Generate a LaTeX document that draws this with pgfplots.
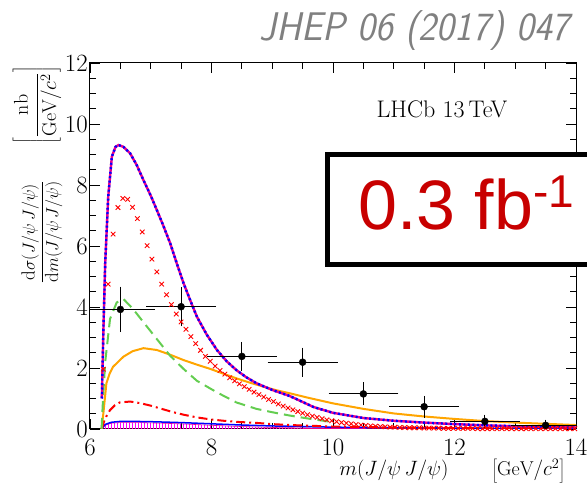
\documentclass[border=0pt]{standalone}
\usepackage{pgfplots}
\pgfplotsset{compat=1.18}
\usepackage{fontspec}
\usepackage{graphicx}
\usetikzlibrary{patterns}
\newfontfamily\arialfont{Liberation Sans}
\definecolor{lorange}{RGB}{255,165,0}
\definecolor{lgreen}{RGB}{100,205,80}
\definecolor{boxred}{RGB}{200,0,0}

\pgfplotstableread{
x y ex ey
6.5 3.92 0.5 0.60
7.5 4.01 0.5 0.50
8.5 2.38 0.5 0.33
9.5 2.19 0.5 0.33
10.5 1.15 0.5 0.23
11.5 0.73 0.5 0.21
12.5 0.25 0.5 0.07
13.5 0.12 0.5 0.04
}\lhcbdata

\begin{document}
\begin{tikzpicture}
\begin{axis}[
    scale only axis,
    width=486pt, height=366pt,
    xmin=6, xmax=14, ymin=0, ymax=12,
    xtick={6,8,10,12,14}, ytick={0,2,4,6,8,10,12},
    minor x tick num=3, minor y tick num=3,
    major tick length=10pt, minor tick length=6pt,
    tick align=inside,
    every tick/.style={black, line width=0.8pt},
    axis line style={line width=1pt},
    tick label style={font=\fontsize{23}{27}\selectfont},
    yticklabel style={inner xsep=2pt},
    xticklabel style={yshift=-7pt},
    clip=true,
]
\coordinate (SW) at (rel axis cs:0,0);

% hatched component
\addplot[draw=magenta, line width=0.6pt, pattern=vertical lines, pattern color=magenta] coordinates {
(6.19,0) (6.25,0.12) (6.35,0.19) (6.5,0.21) (6.8,0.21) (7.2,0.19) (7.6,0.16)
(8.0,0.12) (8.5,0.08) (9.0,0.05) (10.0,0.02) (11.0,0.01) (12.0,0.0)
} \closedcycle;

% blue small component
\addplot[blue, line width=1.5pt] coordinates {
(6.19,0) (6.25,0.15) (6.35,0.22) (6.5,0.25) (6.7,0.25) (7.0,0.24) (7.5,0.21)
(8.0,0.17) (8.5,0.13) (9.0,0.10) (10.0,0.06) (11.0,0.04) (12.0,0.03) (13.0,0.02) (14.0,0.01)
};

% red dash-dot
\addplot[red, line width=2pt, dash pattern=on 9pt off 4pt on 2pt off 4pt] coordinates {
(6.19,0) (6.25,0.35) (6.33,0.62) (6.41,0.78) (6.49,0.87) (6.66,0.90) (6.82,0.85)
(6.99,0.77) (7.18,0.66) (7.37,0.55) (7.56,0.46) (7.76,0.38) (8.0,0.31) (8.2,0.27)
(8.45,0.23) (8.74,0.20) (9.0,0.16) (9.29,0.13) (10.0,0.08) (11.0,0.05) (12.0,0.03)
(13.0,0.02) (14.0,0.01)
};

% orange
\addplot[lorange, line width=2pt] coordinates {
(6.19,0) (6.22,0.51) (6.27,1.5) (6.32,1.8) (6.38,2.04) (6.55,2.37) (6.70,2.55)
(6.88,2.65) (7.10,2.59) (7.30,2.45) (7.54,2.26) (7.76,2.11) (7.98,1.97) (8.2,1.81)
(8.41,1.66) (8.63,1.52) (8.85,1.39) (9.07,1.27) (9.29,1.17) (9.6,1.02) (10.0,0.84)
(10.5,0.66) (11.0,0.51) (11.5,0.41) (12.0,0.33) (12.5,0.26) (13.0,0.21) (13.5,0.17) (14.0,0.13)
};

% green dashed
\addplot[lgreen, line width=2pt, dash pattern=on 11pt off 6pt] coordinates {
(6.19,0) (6.22,1.2) (6.25,2.19) (6.33,3.61) (6.44,4.15) (6.55,4.26) (6.66,4.04)
(6.77,3.78) (6.88,3.50) (7.10,2.95) (7.32,2.40) (7.54,1.97) (7.76,1.58) (8.09,1.20)
(8.41,0.87) (8.74,0.66) (9.0,0.55) (9.29,0.44) (9.6,0.34) (9.95,0.24)
};

% red crosses
\addplot[red, only marks, mark=x, mark size=3.2pt, mark options={line width=0.9pt}] coordinates {
(6.22,1.96) (6.30,4.75) (6.38,6.39) (6.46,7.26) (6.54,7.56) (6.62,7.53) (6.70,7.27)
(6.78,6.90) (6.86,6.46) (6.94,6.01) (7.02,5.57) (7.10,5.15) (7.18,4.75) (7.26,4.40)
(7.34,4.08) (7.42,3.77) (7.50,3.51) (7.58,3.27) (7.66,3.03) (7.74,2.80) (7.82,2.58)
(7.90,2.38) (7.98,2.22) (8.06,2.06) (8.14,1.92) (8.22,1.80) (8.30,1.68) (8.38,1.58)
(8.46,1.48) (8.54,1.39) (8.62,1.30) (8.70,1.21) (8.78,1.13) (8.86,1.05) (8.94,0.97)
(9.02,0.90) (9.10,0.82) (9.18,0.75) (9.26,0.69) (9.34,0.63) (9.42,0.57) (9.50,0.52)
(9.58,0.47) (9.66,0.42) (9.74,0.38) (9.82,0.34) (9.90,0.30) (9.98,0.27) (10.06,0.24)
(10.14,0.21) (10.22,0.19) (10.30,0.17) (10.38,0.15) (10.46,0.13) (10.54,0.12) (10.62,0.10)
(10.70,0.09) (10.78,0.08) (10.86,0.07) (10.94,0.06) (11.02,0.06) (11.10,0.05) (11.18,0.05)
(11.26,0.04) (11.34,0.04) (11.42,0.04) (11.50,0.03) (11.58,0.03) (11.66,0.03) (11.74,0.03)
(11.82,0.02) (11.90,0.02) (11.98,0.02) (12.06,0.02) (12.14,0.02) (12.22,0.02) (12.30,0.02)
(12.38,0.01) (12.46,0.01) (12.54,0.01) (12.62,0.01) (12.70,0.01) (12.78,0.01) (12.86,0.01)
(12.94,0.01) (13.02,0.01) (13.10,0.01) (13.18,0.01) (13.26,0.01) (13.34,0.01) (13.42,0.01)
(13.50,0.01) (13.58,0.01) (13.66,0.01) (13.74,0.01) (13.82,0.01) (13.90,0.01) (13.98,0.01)
};

% total: magenta under blue dashes
\addplot[magenta, line width=2.4pt, forget plot] coordinates {
(6.195,1.0) (6.22,3.2) (6.25,5.43) (6.30,7.62) (6.36,8.93) (6.42,9.25) (6.47,9.31)
(6.55,9.25) (6.66,9.04) (6.77,8.65) (6.88,8.16) (7.00,7.65) (7.10,7.18) (7.20,6.70)
(7.32,6.09) (7.43,5.42) (7.54,4.78) (7.65,4.22) (7.76,3.68) (7.92,3.10) (8.09,2.59)
(8.25,2.22) (8.41,1.93) (8.57,1.70) (8.74,1.50) (9.00,1.28) (9.29,1.08) (9.68,0.72)
(10.0,0.53) (10.5,0.36) (11.0,0.27) (11.5,0.21) (12.0,0.16) (12.5,0.12) (13.0,0.09)
(13.5,0.07) (14.0,0.05)
};
\addplot[blue, line width=2.4pt, dash pattern=on 2pt off 2.5pt] coordinates {
(6.195,1.0) (6.22,3.2) (6.25,5.43) (6.30,7.62) (6.36,8.93) (6.42,9.25) (6.47,9.31)
(6.55,9.25) (6.66,9.04) (6.77,8.65) (6.88,8.16) (7.00,7.65) (7.10,7.18) (7.20,6.70)
(7.32,6.09) (7.43,5.42) (7.54,4.78) (7.65,4.22) (7.76,3.68) (7.92,3.10) (8.09,2.59)
(8.25,2.22) (8.41,1.93) (8.57,1.70) (8.74,1.50) (9.00,1.28) (9.29,1.08) (9.68,0.72)
(10.0,0.53) (10.5,0.36) (11.0,0.27) (11.5,0.21) (12.0,0.16) (12.5,0.12) (13.0,0.09)
(13.5,0.07) (14.0,0.05)
};

% data
\addplot[black, only marks, mark=*, mark size=3.5pt,
  error bars/.cd, x dir=both, x explicit, y dir=both, y explicit,
  error bar style={line width=1pt, black},
  error mark options={black, mark size=4.5pt, line width=1pt}]
  table[x=x, y=y, x error=ex, y error=ey] {\lhcbdata};
\end{axis}

\pgfresetboundingbox
\path[use as bounding box] ([shift={(-90pt,-55pt)}]SW) rectangle ([shift={(497pt,429pt)}]SW);

% labels
\node[rotate=90, font=\fontsize{19}{23}\selectfont] at ([shift={(-48pt,197pt)}]SW)
  {$\displaystyle\frac{\mathrm{d}\sigma(J/\psi\,J/\psi)}{\mathrm{d}m(J/\psi\,J/\psi)}$};
\node[rotate=90, font=\fontsize{20}{24}\selectfont] at ([shift={(-53pt,324pt)}]SW)
  {$\displaystyle\left[\frac{\mathrm{nb}}{\mathrm{GeV}/c^2}\right]$};
\node[anchor=base east, inner sep=0pt, font=\fontsize{20}{24}\selectfont] at ([shift={(475pt,-47pt)}]SW)
  {$m(J/\psi\,J/\psi)\qquad\left[\mathrm{GeV}/c^2\right]$};
\node[anchor=base, inner sep=0pt, font=\fontsize{24}{28}\selectfont] at ([shift={(352pt,311pt)}]SW)
  {LHCb 13\,TeV};

% title
\node[anchor=base east, inner sep=0pt, text=gray] at ([shift={(480pt,388pt)}]SW)
  {\scalebox{0.95}[1]{\fontsize{40}{44}\selectfont\sffamily\slshape JHEP 06 (2017) 047}};

% luminosity box
\draw[line width=5pt, fill=white] ([shift={(237pt,164pt)}]SW) rectangle ([shift={(520pt,274pt)}]SW);
\node[anchor=base west, inner sep=0pt, text=boxred] at ([shift={(268pt,199pt)}]SW)
  {\fontsize{70}{80}\selectfont\arialfont 0.3 fb\raisebox{22pt}{\fontsize{46}{50}\selectfont -1}};
\end{tikzpicture}
\end{document}
